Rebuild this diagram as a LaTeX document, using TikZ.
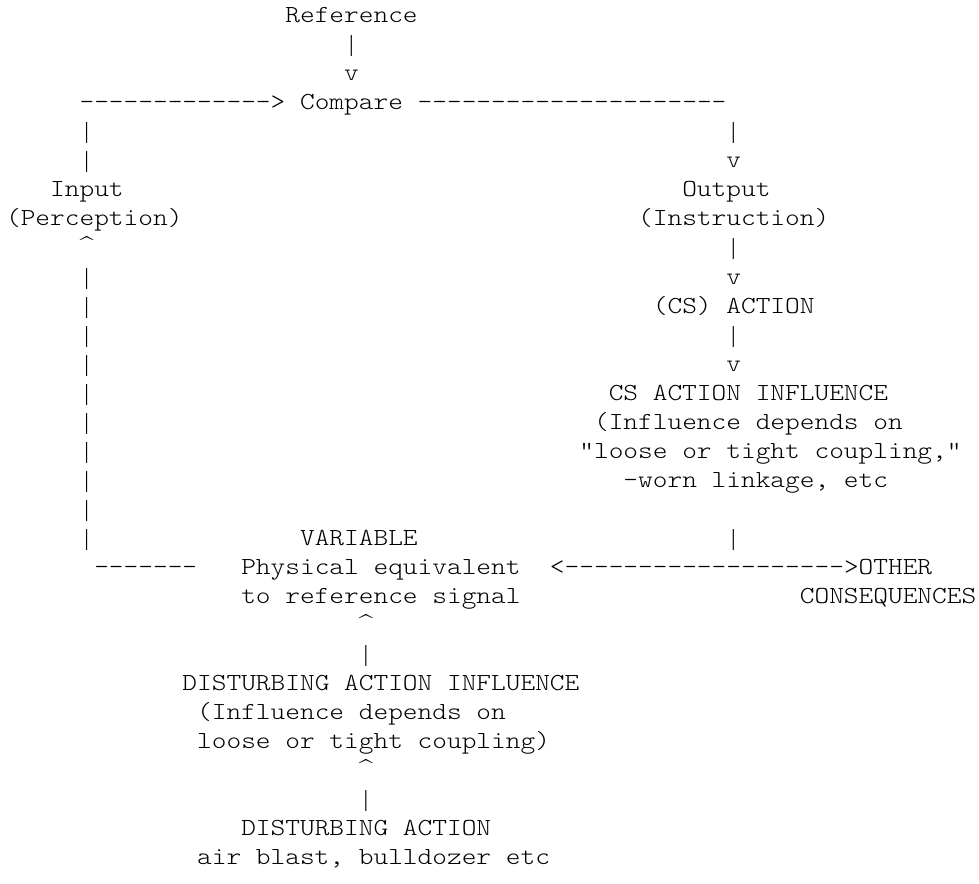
\documentclass[tikz,border=0pt]{standalone}
\usepackage{fontspec}
\setmonofont[FakeStretch=1.143]{lmmonolt10-regular.otf}
\newfontfamily\barfont{Liberation Serif}
\usetikzlibrary{positioning}

\tikzset{
  txt/.style={anchor=base west,inner sep=0pt,font=\ttfamily\fontsize{24.5}{29}\selectfont},
  bar/.style={anchor=base,inner sep=0pt,font=\barfont\fontsize{23}{29}\selectfont},
  hat/.style={anchor=base,inner sep=0pt,font=\rmfamily\fontsize{24.5}{29}\selectfont}
}

\begin{document}
\begin{tikzpicture}[x=14.7pt,y=-29pt]
  \useasboundingbox (-0.398,-0.793) rectangle (66.2,29.655);
  \node[txt] (ref) at (19,0) {Reference};
  \node[bar] (refbar) at (23.5,1) {|};
  \node[txt] (refv) at (23,2) {v};
  \node[txt] (inarrow) at (5,3) {------------->};
  \node[txt] (cmp) at (20,3) {Compare};
  \node[txt] (outline) at (28,3) {---------------------};
  \node[bar] (lbar4) at (5.5,4) {|};
  \node[bar] (rbar4) at (49.5,4) {|};
  \node[bar] (lbar5) at (5.5,5) {|};
  \node[txt] (rv5) at (49,5) {v};
  \node[txt] (in) at (3,6) {Input};
  \node[txt] (out) at (46,6) {Output};
  \node[txt] (perc) at (0,7) {(Perception)};
  \node[txt] (instr) at (43,7) {(Instruction)};
  \node[hat] (lup) at (5.5,8) {\^{}};
  \node[bar] (rbar8) at (49.5,8) {|};
  \foreach \r in {9,...,18}
    \node[bar] (lbar\r) at (5.5,\r) {|};
  \node[txt] (rv9) at (49,9) {v};
  \node[txt] (act) at (44,10) {(CS) ACTION};
  \node[bar] (rbar11) at (49.5,11) {|};
  \node[txt] (rv12) at (49,12) {v};
  \node[txt] (csinf) at (41,13) {CS ACTION INFLUENCE};
  \node[txt] (csdep) at (40,14) {(Influence depends on};
  \node[txt] (cscoup) at (39,15) {"loose or tight coupling,"};
  \node[txt] (cswear) at (42,16) {-worn linkage, etc};
  \node[txt] (var) at (20,18) {VARIABLE};
  \node[bar] (rbar18) at (49.5,18) {|};
  \node[txt] (fb) at (6,19) {-------};
  \node[txt] (phys) at (16,19) {Physical equivalent};
  \node[txt] (both) at (37,19) {<------------------->};
  \node[txt] (other) at (58,19) {OTHER};
  \node[txt] (sig) at (16,20) {to reference signal};
  \node[txt] (cons) at (54,20) {CONSEQUENCES};
  \node[hat] (dup) at (24.5,21) {\^{}};
  \node[bar] (dbar) at (24.5,22) {|};
  \node[txt] (dinf) at (12,23) {DISTURBING ACTION INFLUENCE};
  \node[txt] (ddep) at (13,24) {(Influence depends on};
  \node[txt] (dcoup) at (13,25) {loose or tight coupling)};
  \node[hat] (dup2) at (24.5,26) {\^{}};
  \node[bar] (dbar2) at (24.5,27) {|};
  \node[txt] (dact) at (16,28) {DISTURBING ACTION};
  \node[txt] (dex) at (13,29) {air blast, bulldozer etc};
\end{tikzpicture}
\end{document}
